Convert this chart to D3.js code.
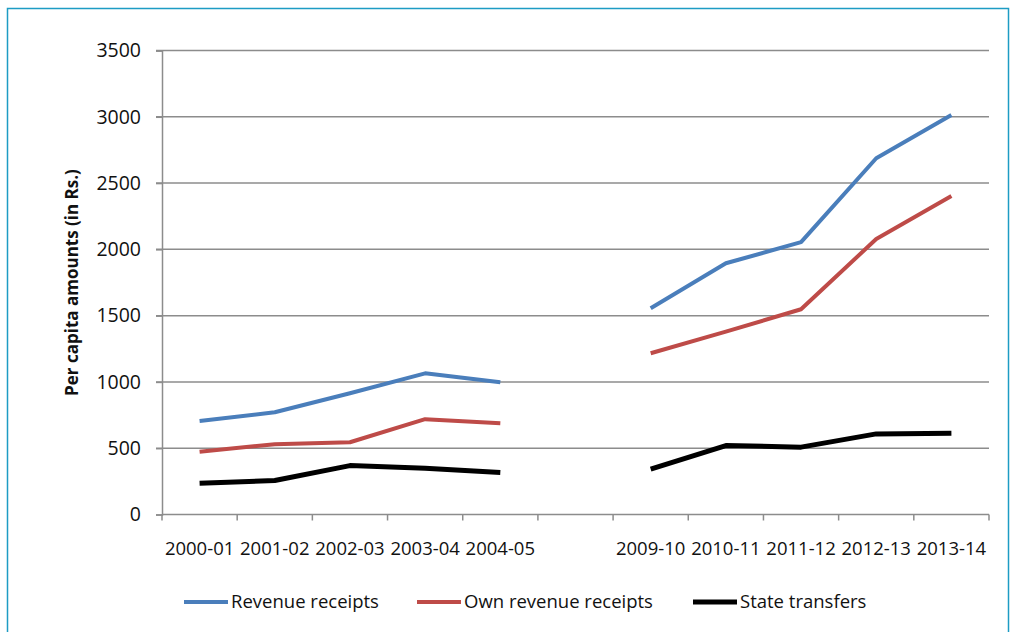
<!DOCTYPE html>
<html>
<head>
<meta charset="utf-8">
<script src="https://cdn.jsdelivr.net/npm/d3@7"></script>
<style>
  html, body { margin: 0; padding: 0; background: #fff; }
  svg { display: block; }
  text { font-family: "Open Sans", "Noto Sans", sans-serif; fill: #111; }
</style>
</head>
<body>
<svg id="chart" width="1010" height="632"></svg>
<script>
// Fiscal years; the empty slot leaves the gap between 2004-05 and 2009-10
const categories = ["2000-01", "2001-02", "2002-03", "2003-04", "2004-05", " ",
                    "2009-10", "2010-11", "2011-12", "2012-13", "2013-14"];
const revenueReceipts    = [706, 771, 915, 1065, 998, null, 1556, 1895, 2054, 2687, 3014];
const ownRevenueReceipts = [474, 530, 545, 719, 688, null, 1216, 1379, 1548, 2078, 2402];
const stateTransfers     = [236, 256, 369, 349, 316, null, 342, 520, 508, 608, 613];
const yTicks = [0, 500, 1000, 1500, 2000, 2500, 3000, 3500];
const seriesNames = ["Revenue receipts", "Own revenue receipts", "State transfers"];

const series = [
  { name: seriesNames[0], values: revenueReceipts,    color: "#4a7ebb", width: 4 },
  { name: seriesNames[1], values: ownRevenueReceipts, color: "#be4b48", width: 4 },
  { name: seriesNames[2], values: stateTransfers,     color: "#000000", width: 5 }
];

const svg = d3.select("#chart");

// outer frame
svg.append("rect")
  .attr("x", 7.5).attr("y", 8.5)
  .attr("width", 1001).attr("height", 640)
  .attr("fill", "none")
  .attr("stroke", "#1d9cc4")
  .attr("stroke-width", 1.5);

const plot = { left: 162, right: 989, top: 50.5, bottom: 514.5 };

const x = d3.scaleBand().domain(categories).range([plot.left, plot.right]).padding(0);
const y = d3.scaleLinear().domain([0, 3500]).range([plot.bottom, plot.top]);

// horizontal gridlines
svg.append("g")
  .selectAll("line")
  .data(yTicks.filter(d => d > 0))
  .join("line")
  .attr("x1", plot.left - 6).attr("x2", plot.right)
  .attr("y1", d => y(d)).attr("y2", d => y(d))
  .attr("stroke", "#8c8c8c").attr("stroke-width", 1.5);

// y axis
const yAxis = svg.append("g")
  .attr("transform", `translate(${plot.left},0)`)
  .call(d3.axisLeft(y).tickValues(yTicks).tickSize(6).tickPadding(15).tickFormat(d3.format("d")));
yAxis.select(".domain").attr("stroke", "#8c8c8c").attr("stroke-width", 1.5);
yAxis.selectAll(".tick line").attr("stroke", "#8c8c8c").attr("stroke-width", 1.5);
yAxis.selectAll(".tick text")
  .style("font-family", "'Open Sans', sans-serif")
  .style("font-size", "19.5px").attr("fill", "#111");

// x axis: ticks sit on category boundaries
const boundaries = categories.map(c => x(c)).concat([plot.right]);
const xAxis = svg.append("g").attr("transform", `translate(0,${plot.bottom})`);
xAxis.append("line")
  .attr("x1", plot.left).attr("x2", plot.right)
  .attr("stroke", "#8c8c8c").attr("stroke-width", 1.5);
xAxis.selectAll("line.tick")
  .data(boundaries)
  .join("line")
  .attr("class", "tick")
  .attr("x1", d => d).attr("x2", d => d)
  .attr("y1", 0).attr("y2", 6)
  .attr("stroke", "#8c8c8c").attr("stroke-width", 1.5);
xAxis.selectAll("text")
  .data(categories)
  .join("text")
  .attr("x", d => x(d) + x.bandwidth() / 2)
  .attr("y", 40)
  .attr("text-anchor", "middle")
  .style("font-size", "18.5px")
  .text(d => d);

// y axis title
svg.append("text")
  .attr("transform", `translate(78,${(plot.top + plot.bottom) / 2}) rotate(-90)`)
  .attr("text-anchor", "middle")
  .style("font-size", "17px")
  .style("font-weight", "bold")
  .text("Per capita amounts (in Rs.)");

// series lines
const line = d3.line()
  .defined(d => d.v !== null)
  .x(d => x(d.c) + x.bandwidth() / 2)
  .y(d => y(d.v));

svg.append("g")
  .selectAll("path")
  .data(series)
  .join("path")
  .attr("d", s => line(categories.map((c, i) => ({ c, v: s.values[i] }))))
  .attr("fill", "none")
  .attr("stroke", s => s.color)
  .attr("stroke-width", s => s.width)
  .attr("stroke-linejoin", "round");

// legend
const legendX = [184, 417, 693];
const legend = svg.append("g").attr("transform", "translate(0,602)");
const item = legend.selectAll("g")
  .data(series)
  .join("g")
  .attr("transform", (d, i) => `translate(${legendX[i]},0)`);
item.append("line")
  .attr("x1", 0).attr("x2", 44)
  .attr("stroke", d => d.color)
  .attr("stroke-width", d => d.width);
item.append("text")
  .attr("x", 47)
  .attr("dy", "0.35em")
  .style("font-size", "18.5px")
  .text(d => d.name);
</script>
</body>
</html>
